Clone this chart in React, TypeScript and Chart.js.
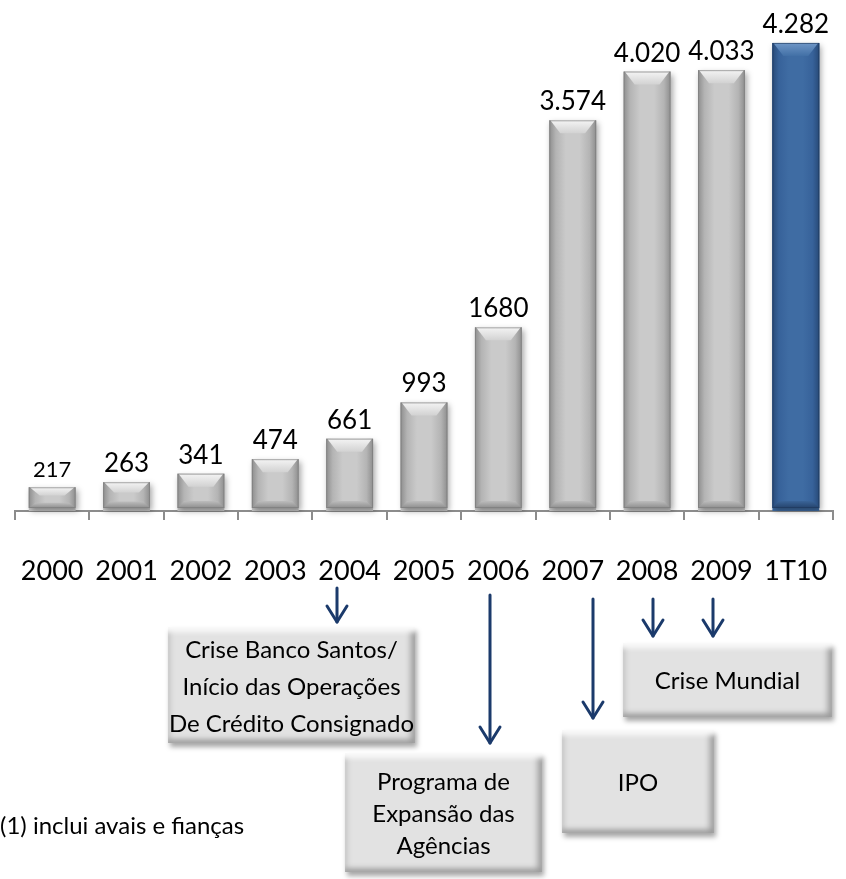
import React, { useEffect, useRef } from "react";
import { Chart, registerables } from "chart.js";

Chart.register(...registerables);

const categories = ["2000", "2001", "2002", "2003", "2004", "2005", "2006", "2007", "2008", "2009", "1T10"];
const values = [217, 263, 341, 474, 661, 993, 1680, 3574, 4020, 4033, 4282];
const valueLabels = ["217", "263", "341", "474", "661", "993", "1680", "3.574", "4.020", "4.033", "4.282"];
const highlightIndex = 10;
const yMax = 4675;

const annotationBoxes = [
  { lines: ["Crise Banco Santos/", "Início das Operações", "De Crédito Consignado"], left: 168, top: 627, width: 247, height: 116, lh: 37 },
  { lines: ["Programa de", "Expansão das", "Agências"], left: 345, top: 753, width: 197, height: 119, lh: 32 },
  { lines: ["IPO"], left: 562, top: 730, width: 152, height: 103, lh: 32 },
  { lines: ["Crise Mundial"], left: 623, top: 643, width: 209, height: 74, lh: 32 },
];

const arrows = [
  { x: 337, y1: 588, y2: 622 },
  { x: 490, y1: 595, y2: 743 },
  { x: 593, y1: 599, y2: 718 },
  { x: 653, y1: 599, y2: 636 },
  { x: 713, y1: 599, y2: 636 },
];

const footnote = "(1) inclui avais e fianças";

const FONT = "Lato, 'Open Sans', sans-serif";

const barShadePlugin = {
  id: "barShade",
  afterDatasetsDraw(chart: any) {
    const ctx = chart.ctx as CanvasRenderingContext2D;
    const meta = chart.getDatasetMeta(0);
    meta.data.forEach((el: any, i: number) => {
      const p = el.getProps(["x", "y", "base", "width"], true);
      const l = p.x - p.width / 2;
      const r = p.x + p.width / 2;
      const t = p.y;
      const b = p.base - 3;
      const h = b - t;
      const w = r - l;
      const blue = i === highlightIndex;
      const pal = blue
        ? { e1: "#284a78", e2: "#37629a", c: "#3f6ca3", topA: "#6f96c6", topB: "#4270a6", botA: "#3a6498", botB: "#25436c" }
        : { e1: "#8e8e8e", e2: "#b4b4b4", c: "#cacaca", topA: "#f4f4f4", topB: "#d2d2d2", botA: "#bcbcbc", botB: "#8e8e8e" };
      ctx.save();
      ctx.shadowColor = "rgba(0,0,0,0.35)";
      ctx.shadowBlur = 6;
      ctx.shadowOffsetX = 2;
      ctx.shadowOffsetY = 3;
      ctx.fillStyle = pal.c;
      ctx.fillRect(l, t, w, h);
      ctx.shadowColor = "transparent";
      const g = ctx.createLinearGradient(l, 0, r, 0);
      g.addColorStop(0, pal.e1);
      g.addColorStop(0.14, pal.e2);
      g.addColorStop(0.35, pal.c);
      g.addColorStop(0.65, pal.c);
      g.addColorStop(0.86, pal.e2);
      g.addColorStop(1, pal.e1);
      ctx.fillStyle = g;
      ctx.fillRect(l, t, w, h);
      const bv = Math.min(13, h * 0.4);
      const inset = Math.min(11, w * 0.25);
      const tg = ctx.createLinearGradient(0, t, 0, t + bv);
      tg.addColorStop(0, pal.topA);
      tg.addColorStop(1, pal.topB);
      ctx.fillStyle = tg;
      ctx.beginPath();
      ctx.moveTo(l + 1, t);
      ctx.lineTo(r - 1, t);
      ctx.lineTo(r - inset, t + bv);
      ctx.lineTo(l + inset, t + bv);
      ctx.closePath();
      ctx.fill();
      const bb = Math.min(7, h * 0.25);
      const bg = ctx.createLinearGradient(0, b - bb, 0, b);
      bg.addColorStop(0, pal.botA);
      bg.addColorStop(1, pal.botB);
      ctx.fillStyle = bg;
      ctx.beginPath();
      ctx.moveTo(l + inset * 0.6, b - bb);
      ctx.lineTo(r - inset * 0.6, b - bb);
      ctx.lineTo(r, b);
      ctx.lineTo(l, b);
      ctx.closePath();
      ctx.fill();
      ctx.strokeStyle = blue ? "rgba(30,55,90,0.6)" : "rgba(120,120,120,0.6)";
      ctx.lineWidth = 1;
      ctx.strokeRect(l + 0.5, t + 0.5, w - 1, h - 1);
      ctx.restore();
    });
  },
};

const valueLabelPlugin = {
  id: "valueLabels",
  afterDatasetsDraw(chart: any) {
    const ctx = chart.ctx as CanvasRenderingContext2D;
    const meta = chart.getDatasetMeta(0);
    ctx.save();
    ctx.fillStyle = "#000";
    ctx.textAlign = "center";
    ctx.textBaseline = "alphabetic";
    meta.data.forEach((el: any, i: number) => {
      const p = el.getProps(["x", "y"], true);
      ctx.font = `${i === 0 ? 22 : 26}px ${FONT}`;
      ctx.fillText(valueLabels[i], p.x, p.y - 10);
    });
    ctx.restore();
  },
};

function Box({ lines, left, top, width, height, lh }: any) {
  return (
    <div
      style={{
        position: "absolute",
        left,
        top,
        width,
        height,
        background: "#e2e2e2",
        boxShadow:
          "inset 0 8px 5px -3px #fafafa, inset -7px 0 6px -3px #9a9a9a, inset 0 -7px 5px -3px #a6a6a6, inset 6px 0 5px -3px #cacaca, 2px 4px 5px rgba(0,0,0,0.35)",
        display: "flex",
        flexDirection: "column",
        justifyContent: "center",
        alignItems: "center",
        fontFamily: FONT,
        fontSize: 24,
        lineHeight: `${lh}px`,
        color: "#000",
        whiteSpace: "nowrap",
        textAlign: "center",
      }}
    >
      {lines.map((s: string, i: number) => (
        <div key={i}>{s}</div>
      ))}
    </div>
  );
}

export default function App() {
  const canvasRef = useRef<HTMLCanvasElement | null>(null);

  useEffect(() => {
    let chart: Chart | null = null;
    let cancelled = false;
    const make = () => {
      if (cancelled || !canvasRef.current) return;
      chart = new Chart(canvasRef.current, {
        type: "bar",
        data: {
          labels: categories,
          datasets: [
            {
              data: values,
              backgroundColor: values.map((_, i) => (i === highlightIndex ? "#3f6ca3" : "#c8c8c8")),
              barPercentage: 0.63,
              categoryPercentage: 1,
            },
          ],
        },
        options: {
          responsive: false,
          animation: false,
          devicePixelRatio: 1,
          layout: { padding: { left: 15, right: 13, top: 0, bottom: 0 } },
          plugins: { legend: { display: false }, tooltip: { enabled: false } },
          scales: {
            y: { display: false, min: 0, max: yMax },
            x: {
              afterFit: (scale: any) => {
                scale.height = 879 - 511;
                scale.paddingLeft = 0;
                scale.paddingRight = 0;
              },
              grid: { offset: true, drawOnChartArea: false, tickLength: 9, color: "#8c8c8c", lineWidth: 2 },
              border: { display: true, color: "#8c8c8c", width: 2 },
              ticks: {
                color: "#000",
                font: { family: FONT, size: 27 },
                padding: 35,
                maxRotation: 0,
                autoSkip: false,
              },
            },
          },
        },
        plugins: [barShadePlugin, valueLabelPlugin],
      });
    };
    const fontsApi: any = (document as any).fonts;
    if (fontsApi && fontsApi.load) {
      Promise.all([fontsApi.load("26px Lato"), fontsApi.load("22px Lato")]).then(make, make);
    } else {
      make();
    }
    return () => {
      cancelled = true;
      if (chart) chart.destroy();
    };
  }, []);

  return (
    <div style={{ position: "fixed", left: 0, top: 0, width: 846, height: 879, background: "#fff", overflow: "hidden" }}>
      <canvas ref={canvasRef} width={846} height={879} style={{ position: "absolute", left: 0, top: 0 }} />
      <svg width={846} height={879} style={{ position: "absolute", left: 0, top: 0, pointerEvents: "none" }}>
        {arrows.map((a, i) => (
          <g key={i} stroke="#1b3a6b" strokeWidth={3} fill="none" strokeLinecap="round" strokeLinejoin="round">
            <line x1={a.x} y1={a.y1} x2={a.x} y2={a.y2} />
            <polyline points={`${a.x - 10},${a.y2 - 16} ${a.x},${a.y2} ${a.x + 10},${a.y2 - 16}`} />
          </g>
        ))}
      </svg>
      {annotationBoxes.map((b, i) => (
        <Box key={i} {...b} />
      ))}
      <div
        style={{
          position: "absolute",
          left: 0,
          top: 810,
          fontFamily: FONT,
          fontSize: 24,
          lineHeight: "30px",
          color: "#000",
          whiteSpace: "nowrap",
        }}
      >
        {footnote}
      </div>
    </div>
  );
}
